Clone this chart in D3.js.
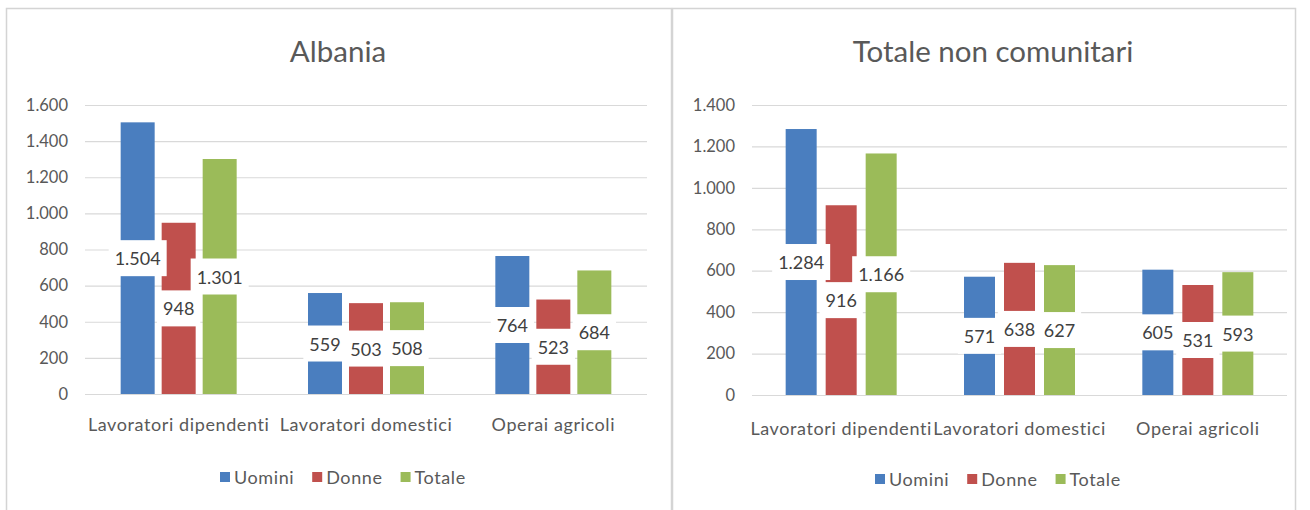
<!DOCTYPE html>
<html>
<head>
<meta charset="utf-8">
<script src="https://cdn.jsdelivr.net/npm/d3@7"></script>
<style>
  html, body { margin: 0; padding: 0; background: #fff; }
  svg { display: block; font-family: Lato, "Liberation Sans", sans-serif; }
</style>
</head>
<body>
<svg id="chart" width="1310" height="510"></svg>
<script>
// Categories and series shared by both panels
const categories = ["Lavoratori dipendenti", "Lavoratori domestici", "Operai agricoli"];
const seriesNames = ["Uomini", "Donne", "Totale"];
const seriesColors = ["#4a7ebf", "#c0504d", "#9bbb59"];

// Albania values per series (one entry per category)
const albaniaUomini = [1504, 559, 764];
const albaniaDonne  = [948, 503, 523];
const albaniaTotale = [1301, 508, 684];
const albaniaTicks  = [0, 200, 400, 600, 800, 1000, 1200, 1400, 1600];

// Totale non comunitari values per series
const ncUomini = [1284, 571, 605];
const ncDonne  = [916, 638, 531];
const ncTotale = [1166, 627, 593];
const ncTicks  = [0, 200, 400, 600, 800, 1000, 1200, 1400];

// Italian number format: "." as thousands separator
const itLocale = d3.formatLocale({ decimal: ",", thousands: ".", grouping: [3], currency: ["€", ""] });
const fmt = itLocale.format(",d");

const svg = d3.select("#chart");
const textColor = "#595959";

// Panel frames
const frame = svg.append("g");
frame.append("rect").attr("x", 6.5).attr("y", 8.5).attr("width", 665).attr("height", 510)
  .attr("fill", "none").attr("stroke", "#d4d4d4").attr("stroke-width", 1.5);
frame.append("rect").attr("x", 672.5).attr("y", 8.5).attr("width", 623).attr("height", 510)
  .attr("fill", "none").attr("stroke", "#d4d4d4").attr("stroke-width", 1.5);

function drawPanel(opt) {
  const g = svg.append("g");
  const values = [opt.uomini, opt.donne, opt.totale];
  const yMax = d3.max(opt.ticks);

  const x = d3.scaleBand().domain(categories).range([opt.x0, opt.x1]).padding(0);
  const y = d3.scaleLinear().domain([0, yMax]).range([opt.yBottom, opt.yTop]);

  // Title
  g.append("text").attr("x", opt.titleX).attr("y", opt.titleY)
    .attr("text-anchor", "middle").attr("font-size", 29.5).attr("fill", textColor)
    .text(opt.title);

  // Gridlines and value axis labels
  const yAxis = d3.axisLeft(y).tickValues(opt.ticks).tickFormat(fmt)
    .tickSize(-(opt.x1 - opt.x0)).tickPadding(17);
  const ya = g.append("g").attr("transform", `translate(${opt.x0},0)`).call(yAxis);
  ya.select(".domain").remove();
  ya.selectAll(".tick line").attr("stroke", "#d9d9d9").attr("stroke-width", 1.2);
  ya.selectAll(".tick text").attr("fill", textColor).attr("font-size", 16.5)
    .attr("font-family", "Lato, sans-serif");

  // Category axis labels
  const xAxis = d3.axisBottom(x).tickSize(0).tickPadding(opt.catPad);
  const xa = g.append("g").attr("transform", `translate(0,${opt.yBottom})`).call(xAxis);
  xa.select(".domain").remove();
  xa.selectAll(".tick text").attr("fill", textColor).attr("font-size", 18)
    .attr("letter-spacing", 0.6).attr("font-family", "Lato, sans-serif");

  const bw = opt.barW, gap = opt.gap;
  const barX = (cat, si) => x(cat) + x.bandwidth() / 2 + (si - 1) * (bw + gap) - bw / 2;

  // Bars
  values.forEach((vals, si) => {
    g.append("g").selectAll("rect").data(vals).join("rect")
      .attr("x", (d, i) => barX(categories[i], si))
      .attr("y", d => y(d))
      .attr("width", bw)
      .attr("height", d => y(0) - y(d))
      .attr("fill", seriesColors[si]);
  });

  // Data labels with white background, centred in each bar
  const labels = g.append("g");
  values.forEach((vals, si) => {
    vals.forEach((v, i) => {
      const cx = barX(categories[i], si) + bw / 2;
      const cy = y(v / 2);
      const lg = labels.append("g");
      const t = lg.append("text").attr("x", cx).attr("y", cy)
        .attr("text-anchor", "middle").attr("dominant-baseline", "central")
        .attr("font-size", 18).attr("fill", "#404040").text(fmt(v));
      const w = t.node().getComputedTextLength();
      lg.insert("rect", "text").attr("x", cx - w / 2 - 6).attr("y", cy - 18)
        .attr("width", w + 12).attr("height", 36).attr("fill", "#fff");
    });
  });

  // Legend
  const lg = g.append("g");
  let lx = opt.legendX;
  seriesNames.forEach((name, si) => {
    lg.append("rect").attr("x", lx).attr("y", opt.legendY - 5).attr("width", 10).attr("height", 10)
      .attr("fill", seriesColors[si]);
    const t = lg.append("text").attr("x", lx + 14).attr("y", opt.legendY)
      .attr("dominant-baseline", "central").attr("font-size", 18).attr("letter-spacing", 0.6)
      .attr("fill", textColor).text(name);
    lx += 14 + t.node().getComputedTextLength() + 18;
  });
}

drawPanel({
  title: "Albania", titleX: 338, titleY: 62,
  uomini: albaniaUomini, donne: albaniaDonne, totale: albaniaTotale, ticks: albaniaTicks,
  x0: 85, x1: 647, yTop: 105, yBottom: 394, barW: 34, gap: 7, catPad: 24,
  legendX: 220, legendY: 477
});

drawPanel({
  title: "Totale non comunitari", titleX: 993, titleY: 62,
  uomini: ncUomini, donne: ncDonne, totale: ncTotale, ticks: ncTicks,
  x0: 752, x1: 1287, yTop: 105, yBottom: 395, barW: 31, gap: 9, catPad: 27,
  legendX: 875, legendY: 479
});
</script>
</body>
</html>
